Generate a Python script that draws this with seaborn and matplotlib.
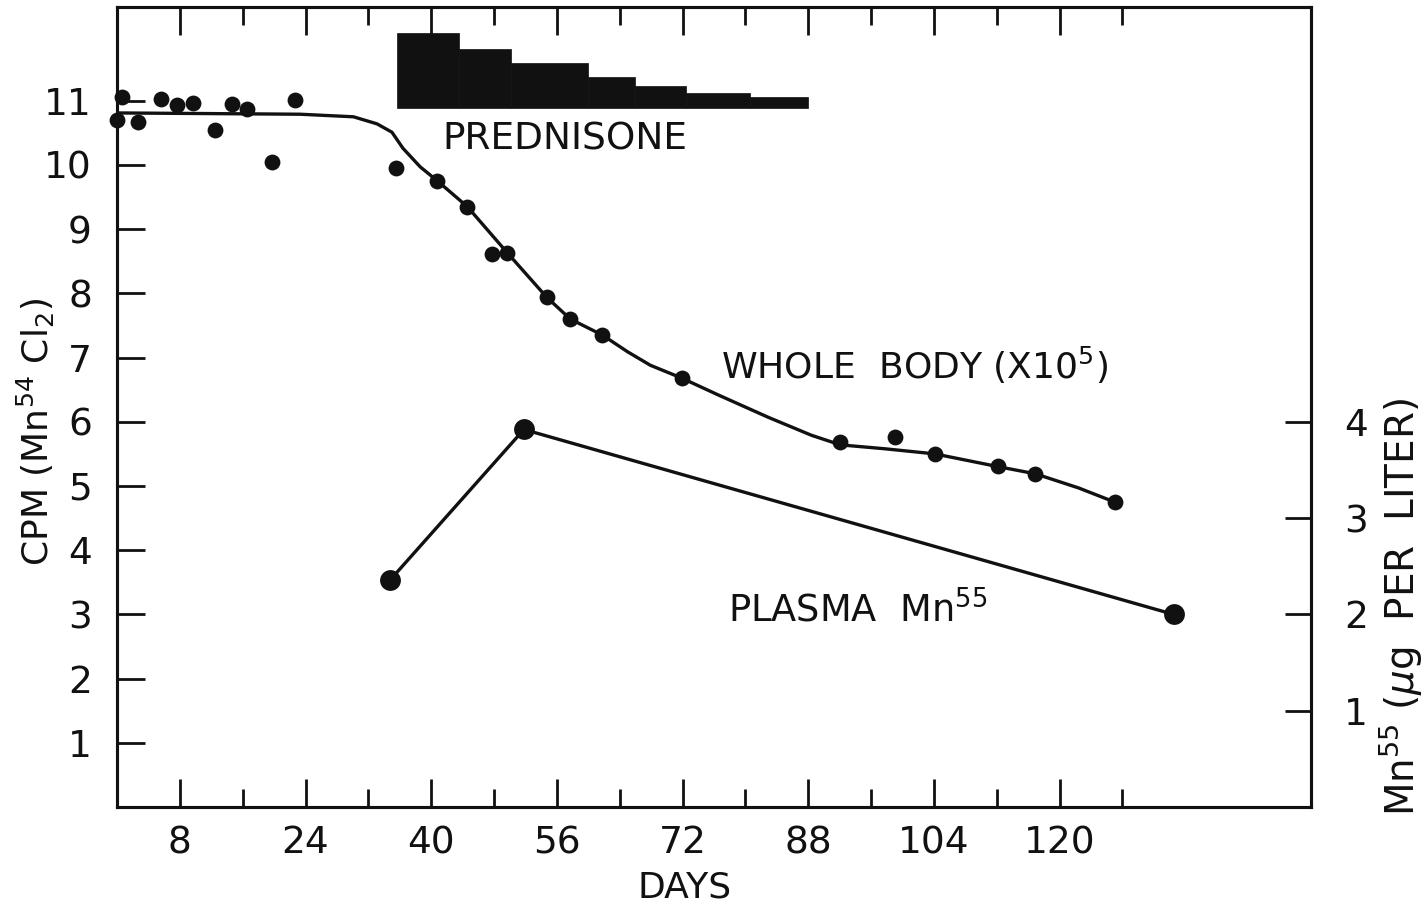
import numpy as np
import pandas as pd
import matplotlib
matplotlib.use("Agg")
import matplotlib.pyplot as plt
import seaborn as sns
from matplotlib.ticker import FixedLocator, NullFormatter

# ---- data -------------------------------------------------------------
# whole-body counts (CPM x 10^5) after a dose of Mn54 Cl2
wb_days = [0.0, 0.7, 2.7, 5.6, 7.6, 9.7, 12.5, 14.6, 16.5, 19.7, 22.7,
           35.5, 40.8, 44.6, 47.8, 49.7, 54.7, 57.7, 61.8, 71.9,
           92.1, 99.0, 104.1, 112.2, 116.9, 127.0]
wb_cpm = [10.70, 11.06, 10.67, 11.03, 10.93, 10.97, 10.55, 10.95, 10.87, 10.05, 11.01,
          9.95, 9.75, 9.35, 8.61, 8.63, 7.94, 7.60, 7.35, 6.68,
          5.69, 5.76, 5.50, 5.31, 5.19, 4.75]

# hand-fitted retention curve through the whole-body counts
fit_days = [0.0, 23.3, 30.1, 33.1, 35.0, 36.4, 38.6, 40.8, 44.6, 49.7, 54.7,
            57.7, 61.8, 65.0, 67.9, 71.9, 76.5, 82.9, 88.4, 92.1, 97.7,
            104.1, 112.2, 116.9, 122.4, 127.0]
fit_cpm = [10.81, 10.79, 10.75, 10.64, 10.51, 10.26, 9.97, 9.75, 9.35, 8.63, 7.94,
           7.60, 7.35, 7.09, 6.88, 6.68, 6.42, 6.07, 5.79, 5.64, 5.58,
           5.50, 5.30, 5.19, 4.97, 4.75]

# plasma Mn55 (ug per liter)
plasma_days = [34.8, 51.8, 134.5]
plasma_mn = [2.36, 3.92, 2.00]

# prednisone dosage steps (drawn as a tapering block above the curve)
pred_edges = [35.6, 43.6, 50.2, 60.0, 66.0, 72.4, 80.6, 88.0]
pred_top = [12.06, 11.81, 11.59, 11.37, 11.23, 11.12, 11.06]
pred_base = 10.89

# axis ticks
cpm_ticks = [1, 2, 3, 4, 5, 6, 7, 8, 9, 10, 11]
mn_ticks = [1, 2, 3, 4]
day_major = [8, 24, 40, 56, 72, 88, 104, 120]
day_minor = [16, 32, 48, 64, 80, 96, 112, 128]

# ---- style ------------------------------------------------------------
sns.set_style("ticks")
plt.rcParams["font.family"] = ["DejaVu Sans"]
plt.rcParams["mathtext.fontset"] = "dejavusans"
ink = "#111111"

fig = plt.figure(figsize=(14.26, 9.14), dpi=100)
ax = fig.add_axes([117 / 1426, 1 - 807 / 914, (1311 - 117) / 1426, (807 - 7) / 914])
ax2 = ax.twinx()

wb = pd.DataFrame({"day": wb_days, "cpm": wb_cpm})
fit = pd.DataFrame({"day": fit_days, "cpm": fit_cpm})
pl = pd.DataFrame({"day": plasma_days, "mn": plasma_mn})

# prednisone block
widths = np.diff(pred_edges)
heights = np.array(pred_top) - pred_base
ax.bar(pred_edges[:-1], heights, width=widths, bottom=pred_base, align="edge",
       color=ink, edgecolor=ink, linewidth=0.5, zorder=2)

# whole-body curve and points
sns.lineplot(data=fit, x="day", y="cpm", ax=ax, color=ink, linewidth=2.4,
             sort=False, zorder=3)
sns.scatterplot(data=wb, x="day", y="cpm", ax=ax, color=ink, s=130,
                edgecolor=ink, linewidth=0, zorder=4, clip_on=False)

# plasma Mn55 on the right-hand scale
sns.lineplot(data=pl, x="day", y="mn", ax=ax2, color=ink, linewidth=2.4,
             marker="o", markersize=15, markeredgewidth=0, sort=False, zorder=3)

# ---- axes -------------------------------------------------------------
ax.set_xlim(0, 152)
ax.set_ylim(0, 12.46)
ax2.set_ylim(0, 12.46 * 2 / 3)

ax.xaxis.set_major_locator(FixedLocator(day_major))
ax.xaxis.set_minor_locator(FixedLocator(day_minor))
ax.xaxis.set_minor_formatter(NullFormatter())
ax.set_yticks(cpm_ticks)
ax2.set_yticks(mn_ticks)

tick_font = 27
ax.tick_params(axis="x", which="major", direction="in", length=20, width=2,
               top=True, bottom=True, labelsize=tick_font, pad=13, colors=ink)
ax.tick_params(axis="x", which="minor", direction="in", length=13, width=2,
               top=True, bottom=True, colors=ink)
ax.tick_params(axis="y", which="major", direction="in", length=20, width=2,
               left=True, right=False, labelsize=tick_font, pad=18, colors=ink)
ax2.tick_params(axis="y", which="major", direction="in", length=19, width=2,
                left=False, right=True, labelsize=tick_font, pad=24, colors=ink)

for a in (ax, ax2):
    for sp in a.spines.values():
        sp.set_visible(True)
        sp.set_linewidth(2.2)
        sp.set_color(ink)

# axis titles, each centred on a fixed point
ax.set_xlabel("DAYS", fontsize=26, color=ink)
ax.xaxis.label.set(ha="center", va="center")
ax.xaxis.set_label_coords((685 - 117) / 1194, -(888 - 807) / 800)

ax.set_ylabel(r"CPM (Mn$^{54}$ Cl$_2$)", fontsize=26, color=ink)
ax.yaxis.label.set(ha="center", va="center", rotation_mode="anchor")
ax.yaxis.set_label_coords(-(117 - 36) / 1194, (807 - 432) / 800)

ax2.set_ylabel(r"Mn$^{55}$ ($\mu$g  PER  LITER)", fontsize=28, color=ink,
               rotation=90)
ax2.yaxis.label.set(ha="center", va="center", rotation_mode="anchor")
ax2.yaxis.set_label_coords((1400 - 117) / 1194, (807 - 607) / 800)

# ---- annotations ------------------------------------------------------
ax.text(57.0, 10.39, "PREDNISONE", fontsize=27, color=ink, ha="center",
        va="center")
ax.text(76.9, 6.88, r"WHOLE  BODY (X10$^5$)", fontsize=26, color=ink,
        ha="left", va="center")
ax.text(77.8, 3.07, r"PLASMA  Mn$^{55}$", fontsize=26.5, color=ink,
        ha="left", va="center")

fig.savefig("out.png", dpi=100, facecolor="white")
